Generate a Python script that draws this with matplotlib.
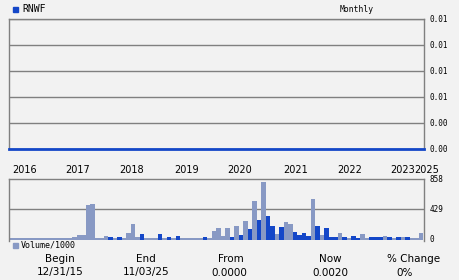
import matplotlib
matplotlib.use("Agg")
import matplotlib.pyplot as plt
from matplotlib.patches import Rectangle
from matplotlib.transforms import blended_transform_factory

# ==================================================
# Datos
# ==================================================
ticker = "RNWF"
periodo = "Monthly"

precio_meses = [0, 92.2]
precio = [0.002, 0.002]
precio_ticks = [0.002, 0.004, 0.006, 0.008, 0.010, 0.012]

# volumen mensual (miles) y si el mes fue a la baja (1 = azul)
volumen = [5, 5, 5, 5, 5, 5, 5, 5, 5, 5, 5, 5, 5, 5,
           20, 48, 48, 473, 497, 3, 3, 35, 8, 3,
           8, 3, 77, 207, 20, 62, 3, 3, 3, 62, 3, 8,
           3, 33, 3, 3, 3, 3, 3, 10, 3, 106, 150, 35,
           150, 20, 178, 48, 251, 135, 541, 265, 820, 324, 178, 62,
           164, 237, 207, 92, 48, 77, 35, 570, 178, 48, 150, 20,
           20, 77, 8, 3, 35, 5, 62, 3, 8, 8, 8, 35,
           20, 3, 10, 20, 8, 3, 3, 80]
baja = [0, 0, 0, 0, 0, 0, 0, 0, 0, 0, 0, 0, 0, 0,
        0, 0, 0, 0, 0, 0, 0, 0, 1, 0,
        1, 0, 0, 0, 0, 1, 0, 0, 0, 1, 0, 1,
        0, 1, 0, 0, 0, 0, 0, 1, 0, 0, 0, 0,
        0, 1, 0, 1, 0, 1, 0, 1, 0, 1, 1, 0,
        1, 0, 0, 1, 1, 1, 1, 0, 1, 0, 1, 1,
        1, 0, 1, 0, 1, 1, 0, 0, 1, 1, 1, 0,
        1, 0, 1, 0, 1, 0, 0, 0]
vol_ticks = [0, 429, 858]

anios = ["2016", "2017", "2018", "2019", "2020", "2021", "2022", "2023", "2025"]
anios_pos = [3.4, 15.3, 27.3, 39.5, 51.3, 63.6, 75.6, 87.4, 92.7]

titulos = ["Begin", "End", "From", "Now", "% Change"]
valores = ["12/31/15", "11/03/25", "0.0000", "0.0020", "0%"]
titulos_x = [60, 146, 231, 330, 414]
valores_x = [60, 146, 229, 330, 405]

# ==================================================
# Grafico
# ==================================================
W, H = 460, 280
fondo = "#f2f2f2"
gris = "#808080"
azul = "#1447c8"
azul_claro = "#8899c4"

fig = plt.figure(figsize=(4.6, 2.8), dpi=100, facecolor=fondo)


def caja(x0, y0, x1, y1):
    return [x0 / W, 1 - y1 / H, (x1 - x0) / W, (y1 - y0) / H]


# panel de precio
ax = fig.add_axes(caja(9, 19, 424, 149), facecolor=fondo)
ax.plot(precio_meses, precio, color=azul, lw=2.0, clip_on=False, zorder=3)
ax.set_xlim(0, 92.2)
ax.set_ylim(0.002, 0.012)
ax.set_yticks(precio_ticks)
ax.set_yticklabels(["%.2f" % v for v in precio_ticks])
ax.yaxis.tick_right()
ax.tick_params(axis="y", length=0, pad=4, labelsize=5.5)
for lab in ax.get_yticklabels():
    lab.set_family("DejaVu Sans Mono")
    lab.set_verticalalignment("center_baseline")
ax.set_xticks([])
ax.yaxis.grid(True, color=gris, lw=1)
for s in ["left", "right", "top"]:
    ax.spines[s].set_color(gris)
    ax.spines[s].set_linewidth(1)
ax.spines["bottom"].set_visible(False)

# panel de volumen
axv = fig.add_axes(caja(9, 179, 424, 240.5), facecolor=fondo)
colores = [azul if b else azul_claro for b in baja]
meses = list(range(len(volumen)))
axv.bar(meses, [v + 25 for v in volumen], bottom=-25, width=1.0, align="edge",
        color=colores, linewidth=0, zorder=2)
axv.set_xlim(0, 92.2)
axv.set_ylim(-36, 858)
axv.set_yticks(vol_ticks)
axv.set_yticklabels([str(v) for v in vol_ticks])
axv.yaxis.tick_right()
axv.tick_params(axis="y", length=0, pad=4, labelsize=5.5)
for lab in axv.get_yticklabels():
    lab.set_family("DejaVu Sans Mono")
    lab.set_verticalalignment("center_baseline")
axv.set_xticks([])
axv.axhline(429, color=gris, lw=1, zorder=1)
for s in ["left", "right", "top"]:
    axv.spines[s].set_color(gris)
    axv.spines[s].set_linewidth(1)
axv.spines["bottom"].set_visible(False)

# etiquetas de anios
tr = blended_transform_factory(axv.transData, fig.transFigure)
for a, p in zip(anios, anios_pos):
    axv.text(p, 1 - 170 / H, a, transform=tr, ha="center", va="center",
             fontsize=7, clip_on=False)

# leyendas
fig.patches.append(Rectangle((12.7 / W, 1 - 11.7 / H), 5 / W, 5 / H,
                             transform=fig.transFigure, color=azul))
fig.text(22 / W, 1 - 9 / H, ticker, ha="left", va="center", fontsize=7,
         family="DejaVu Sans Mono")
fig.text(357 / W, 1 - 9 / H, periodo, ha="center", va="center", fontsize=5.8,
         family="DejaVu Sans Mono")
fig.patches.append(Rectangle((12.7 / W, 1 - 248 / H), 5 / W, 5 / H,
                             transform=fig.transFigure, color=azul_claro))
fig.text(21 / W, 1 - 245 / H, "Volume/1000", ha="left", va="center",
         fontsize=6, family="DejaVu Sans Mono")

# resumen
for t, x in zip(titulos, titulos_x):
    fig.text(x / W, 1 - 259 / H, t, ha="center", va="center", fontsize=7.5)
for v, x in zip(valores, valores_x):
    fig.text(x / W, 1 - 272.5 / H, v, ha="center", va="center", fontsize=7.5)

fig.savefig("out.png", dpi=100, facecolor=fondo)
